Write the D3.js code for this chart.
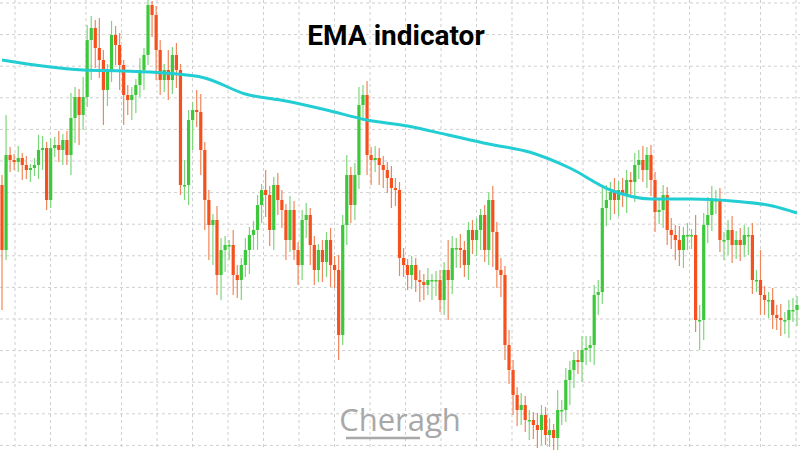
<!DOCTYPE html>
<html><head><meta charset="utf-8">
<script src="https://cdn.jsdelivr.net/npm/d3@7"></script>
<style>body{margin:0;background:#fff}svg{display:block}</style>
</head><body><svg id="c" width="800" height="450"></svg>
<script>
// price units: chart value (higher = up)
const closesPx = [250,155,160,162,158,165,170,168,165,150,148,200,148,145,150,140,155,118,97,115,97,40,28,48,60,90,70,35,45,65,95,100,95,85,70,55,5,15,50,80,70,80,55,70,185,185,120,110,
112,150,200,225,220,275,250,245,245,275,280,265,250,235,230,205,190,195,230,185,200,210,240,210,250,265,220,215,245,270,250,262,240,265,270,335,225,175,205,175,105,95,155,160,158,165,170,178,188,190,
258,265,275,265,280,282,285,280,280,280,300,270,280,248,248,250,265,230,240,230,215,250,200,232,270,275,345,370,395,410,405,420,420,425,430,415,435,430,438,410,410,380,370,360,362,350,348,345,295,
292,208,200,192,200,190,195,180,182,165,160,170,155,180,212,210,195,230,235,240,250,235,235,235,320,320,225,215,200,200,240,240,230,245,240,245,235,235,280,280,295,300,300,315,318,320,320,310,310,305];
const closes = closesPx.map(v => 450 - v);
const firstOpen = 450 - 185;
const wickUp = [10,40,8,6,12,5,9,4,7,15,12,6,10,8,14,6,9,25,10,8,20,15,12,8,30,10,6,14,9,12,5,10,8,6,12,7,15,4,9,10,6,20,8,12,6,25,10,8,
20,18,8,10,6,14,12,9,5,15,10,7,12,8,9,10,6,20,9,8,12,10,6,14,9,8,10,12,7,9,6,10,8,12,9,15,10,20,8,12,18,10,14,8,12,10,9,8,12,10,
8,10,6,9,7,10,8,12,6,9,10,8,30,12,10,14,9,8,10,12,6,10,8,14,10,12,9,15,10,8,12,9,10,8,12,10,8,12,6,20,10,12,9,8,10,14,12,9,10,
12,20,15,10,14,9,12,10,8,12,10,14,8,10,8,12,10,8,12,10,14,8,12,6,20,15,12,18,14,10,12,8,10,14,9,12,10,8,12,10,30,9,8,12,10,14,8,10,12,9,
10,12,8,14,10,9,12,10,8,12];
const wickDn = [60,10,12,8,10,15,9,12,8,14,20,10,8,9,12,15,10,20,25,30,15,10,40,20,18,35,16,12,20,25,30,15,20,18,12,20,10,22,30,15,12,20,14,18,10,15,20,30,
15,25,30,35,40,20,25,22,15,20,18,20,12,24,15,20,18,22,16,20,15,18,20,12,10,20,15,18,20,15,12,20,15,22,18,25,10,20,18,15,14,16,20,25,12,20,18,15,20,16,
18,12,15,14,12,20,15,10,20,16,12,15,40,14,20,18,12,15,14,16,20,12,15,35,18,22,15,14,20,16,15,12,20,14,18,15,10,12,14,20,15,12,25,18,12,20,15,14,20,
20,12,18,20,14,16,12,18,15,20,14,12,18,16,20,12,18,15,14,20,16,18,15,14,12,30,20,18,16,14,12,20,15,18,14,16,12,20,14,12,20,15,18,14,12,16,
14,18,12,16,20,14,12,18,15,12];
// EMA readings every 10 candles
const emaIdx = [0,10,20,30,40,50,60,70,80,90,100,110,120,130,140,150,160,170,180,190,196];
const emaPx  = [60,66,70,71,73,78,94,101,110,120,126,135,144,152,168,190,199,199,201,206,213];
const title = "EMA indicator";
const gridX = d3.range(15, 800, 35.5);
const gridY = d3.range(3, 450, 31.6);

const svg = d3.select("#c");
const N = closes.length;
const x = d3.scaleLinear().domain([0, N - 1]).range([2, 797]);
const y = d3.scaleLinear().domain([0, 450]).range([450, 0]);
const gx = d3.scaleLinear().domain([0,800]).range([0,800]);

svg.append("g").selectAll("line").data(gridX).join("line")
  .attr("x1", d=>gx(d)).attr("x2", d=>gx(d)).attr("y1",0).attr("y2",450)
  .attr("stroke","#cfcfcf").attr("stroke-dasharray","3,3").attr("stroke-width",1);
svg.append("g").selectAll("line").data(gridY).join("line")
  .attr("y1", d=>gx(d)).attr("y2", d=>gx(d)).attr("x1",0).attr("x2",800)
  .attr("stroke","#cfcfcf").attr("stroke-dasharray","3,3").attr("stroke-width",1);

const candles = closes.map((c,i) => {
  const o = i === 0 ? firstOpen : closes[i-1];
  return {i, o, c, h: Math.max(o,c) + wickUp[i], l: Math.min(o,c) - wickDn[i]};
});
const up = d => d.c >= d.o;
const g = svg.append("g");
g.selectAll("line.w").data(candles).join("line").attr("class","w")
  .attr("x1", d=>x(d.i)).attr("x2", d=>x(d.i))
  .attr("y1", d=>y(d.h)).attr("y2", d=>y(d.l))
  .attr("stroke", d=> up(d) ? "#7ed67a" : "#f0865a").attr("stroke-width",1.2);
g.selectAll("rect").data(candles).join("rect")
  .attr("x", d=>x(d.i)-1.6).attr("width",3.2)
  .attr("y", d=>y(Math.max(d.o,d.c)))
  .attr("height", d=>Math.max(1.5, Math.abs(y(d.o)-y(d.c))))
  .attr("fill", d=> up(d) ? "#3cc83a" : "#f4511e");

const ema = emaIdx.map((k,j)=>({k, v:450-emaPx[j]}));
svg.append("path").datum(ema)
  .attr("d", d3.line().x(d=>x(d.k)).y(d=>y(d.v)).curve(d3.curveMonotoneX))
  .attr("fill","none").attr("stroke","#22cdd3").attr("stroke-width",3);

svg.append("text").attr("x",396).attr("y",45).attr("text-anchor","middle")
  .attr("font-family","Roboto, Arial, sans-serif").attr("font-weight","bold")
  .attr("font-size",28).attr("fill","#000").text(title);

svg.append("text").attr("x",400).attr("y",431).attr("text-anchor","middle")
  .attr("font-family","'Open Sans', Lato, sans-serif").attr("font-size",31)
  .attr("fill","#a8a8a8").text("Cheragh");
svg.append("line").attr("x1",346).attr("x2",420).attr("y1",438).attr("y2",438)
  .attr("stroke","#a8a8a8").attr("stroke-width",2.5);
</script></body></html>
